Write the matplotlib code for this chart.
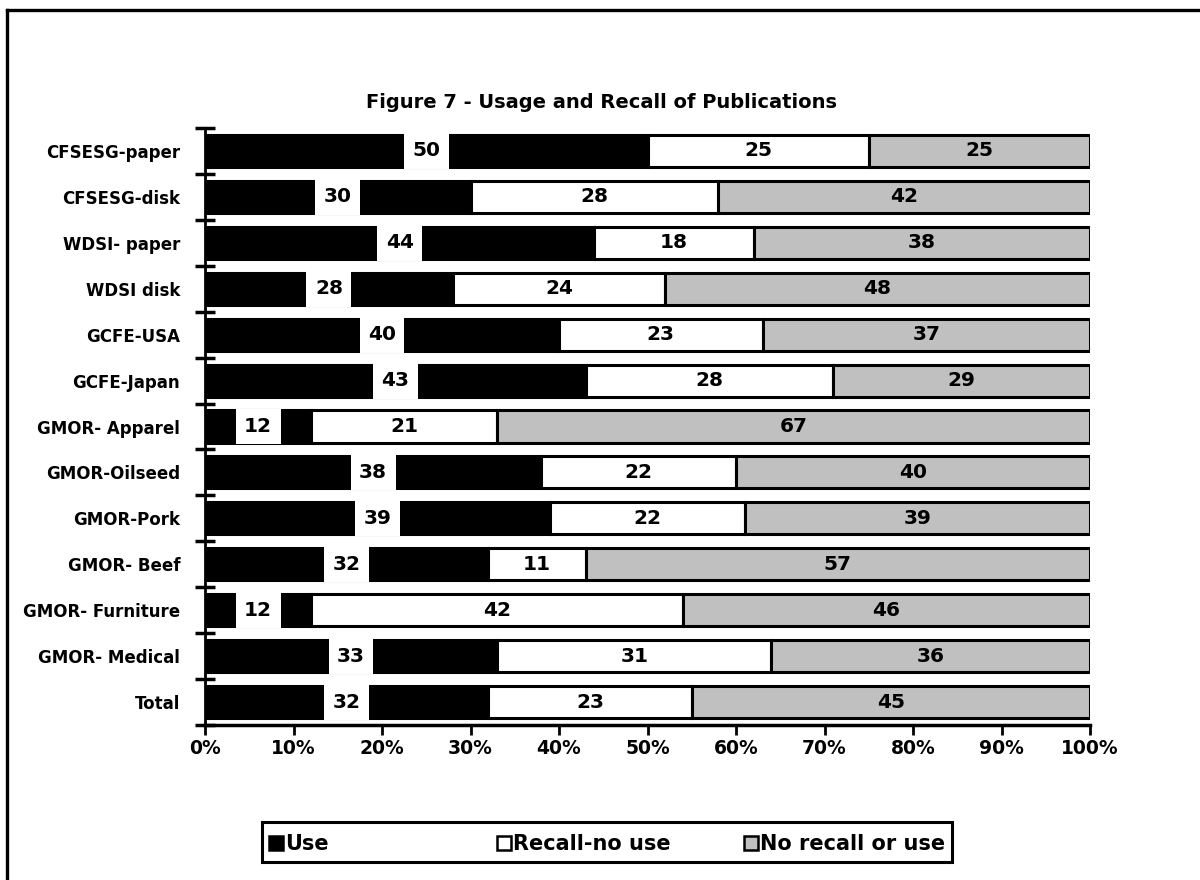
import numpy as np
import matplotlib
matplotlib.use("Agg")
import matplotlib.pyplot as plt
from matplotlib.patches import Rectangle
from matplotlib.lines import Line2D

plt.rcParams['font.family'] = ['DejaVu Sans']
plt.rcParams['font.weight'] = 'bold'

title = "Figure 7 - Usage and Recall of Publications"
categories = [
    "CFSESG-paper", "CFSESG-disk", "WDSI- paper", "WDSI disk", "GCFE-USA",
    "GCFE-Japan", "GMOR- Apparel", "GMOR-Oilseed", "GMOR-Pork", "GMOR- Beef",
    "GMOR- Furniture", "GMOR- Medical", "Total",
]
use = [50, 30, 44, 28, 40, 43, 12, 38, 39, 32, 12, 33, 32]
recall_no_use = [25, 28, 18, 24, 23, 28, 21, 22, 22, 11, 42, 31, 23]
no_recall = [25, 42, 38, 48, 37, 29, 67, 40, 39, 57, 46, 36, 45]
series_names = ["Use", "Recall-no use", "No recall or use"]
x_ticks = [0, 10, 20, 30, 40, 50, 60, 70, 80, 90, 100]

GRAY = "#c0c0c0"
W, H = 1200, 880

fig = plt.figure(figsize=(W / 100, H / 100), dpi=100)
fig.patch.set_facecolor("white")

def fx(px):
    return px / W

def fy(py):
    return 1 - py / H

ax = fig.add_axes([fx(205), fy(725), fx(1090) - fx(205), fy(128) - fy(725)])

n = len(categories)
y = np.arange(n)
use_a = np.array(use)
rec_a = np.array(recall_no_use)
nor_a = np.array(no_recall)

bh = 0.70
ax.barh(y, use_a, height=bh, color="black", edgecolor="black", linewidth=2.2, zorder=2)
ax.barh(y, rec_a, left=use_a, height=bh, color="white", edgecolor="black",
        linewidth=2.2, zorder=2)
ax.barh(y, nor_a, left=use_a + rec_a, height=bh, color=GRAY, edgecolor="black",
        linewidth=2.2, zorder=2)

lab_fs = 14.5
for i in range(n):
    ax.text(use_a[i] / 2, i, str(use_a[i]), ha="center", va="center",
            fontsize=lab_fs, fontweight="bold", color="black", zorder=5,
            bbox=dict(boxstyle="square,pad=0.42", fc="white", ec="none"))
    ax.text(use_a[i] + rec_a[i] / 2, i, str(rec_a[i]), ha="center", va="center",
            fontsize=lab_fs, fontweight="bold", color="black", zorder=5)
    ax.text(use_a[i] + rec_a[i] + nor_a[i] / 2, i, str(nor_a[i]), ha="center",
            va="center", fontsize=lab_fs, fontweight="bold", color="black", zorder=5)

ax.set_xlim(0, 100)
ax.set_ylim(n - 0.5, -0.5)
ax.set_xticks(x_ticks, [f"{v}%" for v in x_ticks])
ax.set_yticks(y, categories)
ax.set_yticks(np.arange(-0.5, n, 1.0), minor=True)

ax.tick_params(axis="x", which="major", direction="out", length=7, width=2,
               labelsize=13.5, pad=3, color="black")
ax.tick_params(axis="y", which="major", length=0, labelsize=12, pad=18)
ax.tick_params(axis="y", which="minor", direction="inout", length=14, width=2.5)

for lab in ax.get_xticklabels() + ax.get_yticklabels():
    lab.set_fontweight("bold")

for s in ("top", "right"):
    ax.spines[s].set_visible(False)
ax.spines["bottom"].set_linewidth(2.5)
ax.spines["left"].set_linewidth(2)

fig.text(fx(602), fy(102), title, ha="center", va="center", fontsize=14,
         fontweight="bold")

# legend drawn as a framed strip below the chart
fig.patches.append(Rectangle((fx(262), fy(862)), fx(952) - fx(262),
                             fy(822) - fy(862), transform=fig.transFigure,
                             facecolor="white", edgecolor="black", linewidth=2.2))
swatches = [("black", 269), ("white", 497), (GRAY, 744)]
text_x = [285, 513, 760]
sq = 14
for (col, x0), name, tx in zip(swatches, series_names, text_x):
    fig.patches.append(Rectangle((fx(x0), fy(843 + sq / 2)), sq / W, sq / H,
                                 transform=fig.transFigure, facecolor=col,
                                 edgecolor="black", linewidth=1.8))
    fig.text(fx(tx), fy(844), name, ha="left", va="center", fontsize=15,
             fontweight="bold")

# outer frame (top and left edges)
fig.add_artist(Line2D([fx(7), 1.0], [fy(10), fy(10)], transform=fig.transFigure,
                      color="black", linewidth=2.4))
fig.add_artist(Line2D([fx(7), fx(7)], [fy(10), 0.0], transform=fig.transFigure,
                      color="black", linewidth=2.4))

fig.savefig("out.png", dpi=100, facecolor="white")
